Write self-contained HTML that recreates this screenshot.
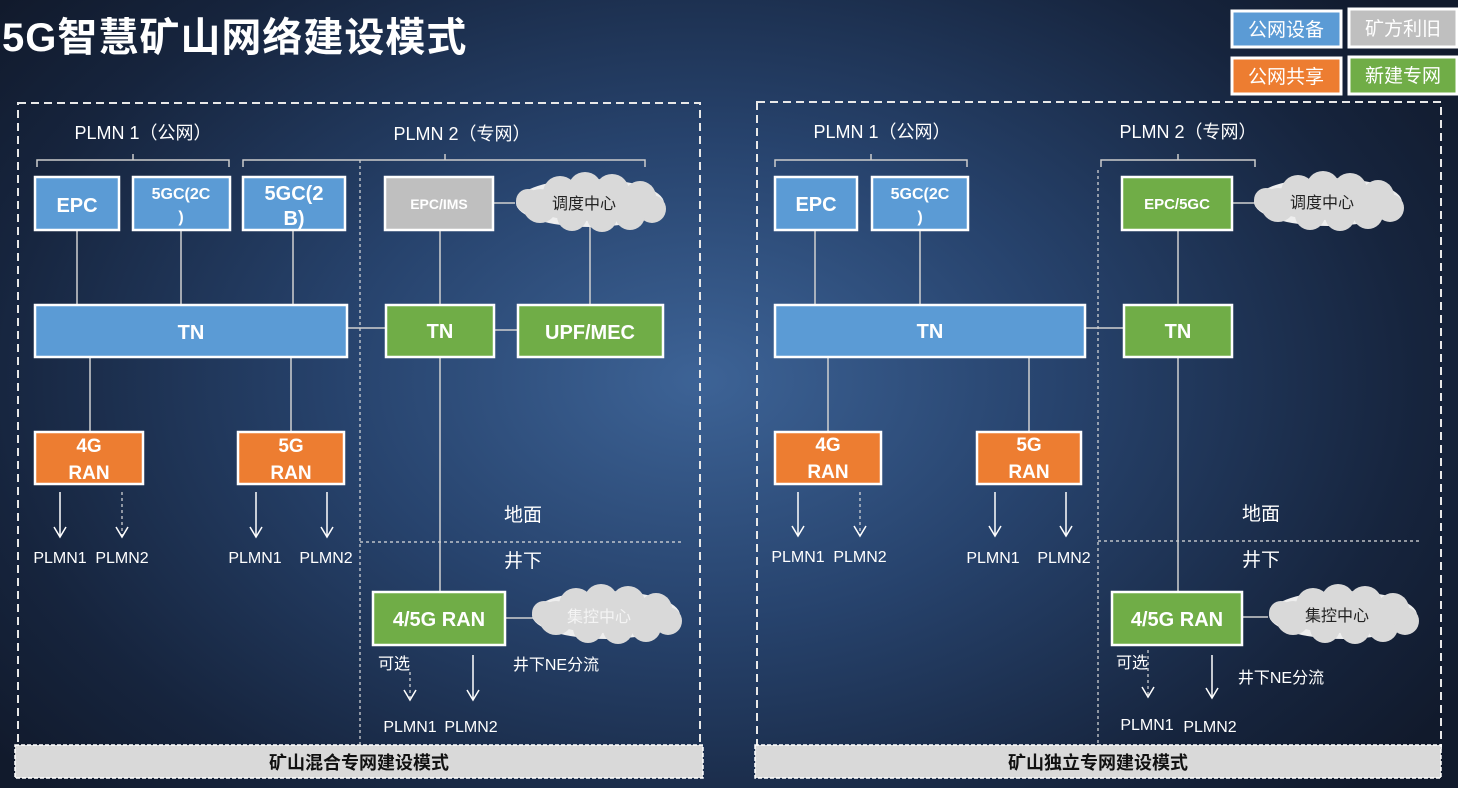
<!DOCTYPE html>
<html><head><meta charset="utf-8"><style>
html,body{margin:0;padding:0;width:1458px;height:788px;overflow:hidden}
body{background:radial-gradient(ellipse 900px 600px at 700px 380px,#3d6396 0%,#27436d 40%,#16243d 80%,#111a2c 100%)}
svg{position:absolute;left:0;top:0}
text{font-family:"Liberation Sans","Noto Sans CJK SC",sans-serif;fill:#fff}
.b{font-weight:bold}
</style></head><body>
<svg width="1458" height="788" viewBox="0 0 1458 788" xmlns="http://www.w3.org/2000/svg">
<defs>
<g id="cloud">
<ellipse cx="0" cy="0" rx="74" ry="24" fill="#eee"/>
<circle cx="-50" cy="3" r="17" fill="#d9d9d9"/><circle cx="-30" cy="-10" r="17" fill="#d9d9d9"/>
<circle cx="-5" cy="-14" r="17" fill="#d9d9d9"/><circle cx="22" cy="-12" r="17" fill="#d9d9d9"/>
<circle cx="50" cy="-6" r="16" fill="#d9d9d9"/><circle cx="62" cy="6" r="14" fill="#d9d9d9"/>
<circle cx="40" cy="12" r="15" fill="#d9d9d9"/><circle cx="12" cy="14" r="15" fill="#d9d9d9"/>
<circle cx="-18" cy="13" r="15" fill="#d9d9d9"/><circle cx="-62" cy="-2" r="12" fill="#d9d9d9"/>
<ellipse cx="0" cy="0" rx="60" ry="18" fill="#d9d9d9"/>
</g>
<g id="ah"><polyline points="-6,-10 0,0 6,-10" fill="none" stroke="#fff" stroke-width="1.5"/></g>
</defs>

<text x="2" y="51" class="b" font-size="40" letter-spacing="1">5G智慧矿山网络建设模式</text>

<!-- legend -->
<g stroke="#fff" stroke-width="3">
<rect x="1232" y="11" width="109" height="36" fill="#5b9bd5"/>
<rect x="1349" y="9" width="108" height="38" fill="#bfbfbf"/>
<rect x="1232" y="58" width="109" height="36" fill="#ed7d31"/>
<rect x="1349" y="57" width="108" height="37" fill="#70ad47"/>
</g>
<g font-size="19" text-anchor="middle">
<text x="1286" y="36">公网设备</text><text x="1403" y="35">矿方利旧</text>
<text x="1286" y="83">公网共享</text><text x="1403" y="82">新建专网</text>
</g>

<!-- panels -->
<g fill="none" stroke="#e8e8e8" stroke-width="2" stroke-dasharray="8,5">
<rect x="18" y="103" width="682" height="645"/>
<rect x="757" y="102" width="684" height="646"/>
</g>
<g fill="#d9d9d9" stroke="#fff" stroke-width="1.5" stroke-dasharray="4,2">
<rect x="15" y="745" width="688" height="33"/>
<rect x="755" y="745" width="686" height="33"/>
</g>
<g font-size="18" class="b" text-anchor="middle">
<text x="359" y="769" style="fill:#111">矿山混合专网建设模式</text>
<text x="1098" y="769" style="fill:#111">矿山独立专网建设模式</text>
</g>

<!-- dotted dividers -->
<g stroke="#ddd" stroke-width="1.2" stroke-dasharray="3,3" fill="none">
<line x1="360" y1="160" x2="360" y2="745"/>
<line x1="360" y1="542" x2="683" y2="542"/>
<line x1="1098" y1="170" x2="1098" y2="745"/>
<line x1="1098" y1="541" x2="1420" y2="541"/>
<line x1="410" y1="672" x2="410" y2="698"/>
<line x1="122" y1="492" x2="122" y2="536"/>
<line x1="860" y1="492" x2="860" y2="536"/>
<line x1="1148" y1="650" x2="1148" y2="696"/>
</g>

<!-- brackets -->
<g stroke="#ccc" stroke-width="1.5" fill="none">
<polyline points="37,167 37,160 229,160 229,167"/><line x1="133" y1="160" x2="133" y2="154"/>
<polyline points="243,167 243,160 645,160 645,167"/><line x1="445" y1="160" x2="445" y2="154"/>
<polyline points="775,167 775,160 967,160 967,167"/><line x1="871" y1="160" x2="871" y2="154"/>
<polyline points="1101,167 1101,160 1255,160 1255,167"/><line x1="1178" y1="160" x2="1178" y2="154"/>
</g>
<g font-size="18" text-anchor="middle">
<text x="143" y="139">PLMN 1（公网）</text>
<text x="462" y="140">PLMN 2（专网）</text>
<text x="882" y="138">PLMN 1（公网）</text>
<text x="1188" y="138">PLMN 2（专网）</text>
</g>

<!-- connectors -->
<g stroke="#d0d0d0" stroke-width="1.5" fill="none">
<line x1="77" y1="230" x2="77" y2="305"/><line x1="181" y1="230" x2="181" y2="305"/>
<line x1="293" y1="230" x2="293" y2="305"/><line x1="440" y1="230" x2="440" y2="305"/>
<line x1="590" y1="222" x2="590" y2="305"/><line x1="493" y1="203" x2="515" y2="203"/>
<line x1="347" y1="328" x2="386" y2="328"/><line x1="494" y1="330" x2="518" y2="330"/>
<line x1="90" y1="357" x2="90" y2="432"/><line x1="291" y1="357" x2="291" y2="432"/>
<line x1="440" y1="357" x2="440" y2="592"/><line x1="505" y1="618" x2="535" y2="618"/>
<line x1="815" y1="230" x2="815" y2="305"/><line x1="920" y1="230" x2="920" y2="305"/>
<line x1="1178" y1="230" x2="1178" y2="305"/><line x1="1232" y1="203" x2="1255" y2="203"/>
<line x1="1085" y1="328" x2="1124" y2="328"/>
<line x1="828" y1="357" x2="828" y2="432"/><line x1="1029" y1="357" x2="1029" y2="432"/>
<line x1="1178" y1="357" x2="1178" y2="592"/><line x1="1242" y1="617" x2="1268" y2="617"/>
</g>
<g stroke="#fff" stroke-width="1.5">
<line x1="60" y1="492" x2="60" y2="537"/><line x1="256" y1="492" x2="256" y2="537"/>
<line x1="327" y1="492" x2="327" y2="537"/><line x1="473" y1="655" x2="473" y2="700"/>
<line x1="798" y1="492" x2="798" y2="536"/><line x1="995" y1="492" x2="995" y2="536"/>
<line x1="1066" y1="492" x2="1066" y2="536"/><line x1="1212" y1="655" x2="1212" y2="698"/>
</g>
<use href="#ah" x="60" y="537"/><use href="#ah" x="122" y="537"/><use href="#ah" x="256" y="537"/><use href="#ah" x="327" y="537"/>
<use href="#ah" x="410" y="700"/><use href="#ah" x="473" y="700"/>
<use href="#ah" x="798" y="536"/><use href="#ah" x="860" y="536"/><use href="#ah" x="995" y="536"/><use href="#ah" x="1066" y="536"/>
<use href="#ah" x="1148" y="697"/><use href="#ah" x="1212" y="698"/>

<!-- clouds -->
<use href="#cloud" x="590" y="203"/><use href="#cloud" x="606" y="615"/>
<use href="#cloud" x="1328" y="202"/><use href="#cloud" x="1343" y="615"/>
<g font-size="16" text-anchor="middle">
<text x="584" y="209" style="fill:#222">调度中心</text>
<text x="599" y="622" style="fill:#f4f4f4">集控中心</text>
<text x="1322" y="208" style="fill:#222">调度中心</text>
<text x="1337" y="621" style="fill:#222">集控中心</text>
</g>

<!-- boxes -->
<g stroke="#fff" stroke-width="2.5">
<rect x="35" y="177" width="84" height="53" fill="#5b9bd5"/>
<rect x="133" y="177" width="97" height="53" fill="#5b9bd5"/>
<rect x="243" y="177" width="102" height="53" fill="#5b9bd5"/>
<rect x="385" y="177" width="108" height="53" fill="#bfbfbf"/>
<rect x="35" y="305" width="312" height="52" fill="#5b9bd5"/>
<rect x="386" y="305" width="108" height="52" fill="#70ad47"/>
<rect x="518" y="305" width="145" height="52" fill="#70ad47"/>
<rect x="35" y="432" width="108" height="52" fill="#ed7d31"/>
<rect x="238" y="432" width="106" height="52" fill="#ed7d31"/>
<rect x="373" y="592" width="132" height="53" fill="#70ad47"/>
<rect x="775" y="177" width="82" height="53" fill="#5b9bd5"/>
<rect x="872" y="177" width="96" height="53" fill="#5b9bd5"/>
<rect x="1122" y="177" width="110" height="53" fill="#70ad47"/>
<rect x="775" y="305" width="310" height="52" fill="#5b9bd5"/>
<rect x="1124" y="305" width="108" height="52" fill="#70ad47"/>
<rect x="775" y="432" width="106" height="52" fill="#ed7d31"/>
<rect x="977" y="432" width="104" height="52" fill="#ed7d31"/>
<rect x="1112" y="592" width="130" height="53" fill="#70ad47"/>
</g>
<g class="b" text-anchor="middle">
<text x="77" y="212" font-size="20">EPC</text>
<text x="181" y="199" font-size="16">5GC(2C</text><text x="181" y="222" font-size="16">)</text>
<text x="294" y="200" font-size="20">5GC(2</text><text x="294" y="225" font-size="20">B)</text>
<text x="439" y="209" font-size="14">EPC/IMS</text>
<text x="191" y="339" font-size="20">TN</text>
<text x="440" y="338" font-size="20">TN</text>
<text x="590" y="339" font-size="20">UPF/MEC</text>
<text x="89" y="452" font-size="19">4G</text><text x="89" y="479" font-size="19">RAN</text>
<text x="291" y="452" font-size="19">5G</text><text x="291" y="479" font-size="19">RAN</text>
<text x="439" y="626" font-size="20">4/5G RAN</text>
<text x="816" y="211" font-size="20">EPC</text>
<text x="920" y="199" font-size="16">5GC(2C</text><text x="920" y="222" font-size="16">)</text>
<text x="1177" y="209" font-size="15">EPC/5GC</text>
<text x="930" y="338" font-size="20">TN</text>
<text x="1178" y="338" font-size="20">TN</text>
<text x="828" y="451" font-size="19">4G</text><text x="828" y="478" font-size="19">RAN</text>
<text x="1029" y="451" font-size="19">5G</text><text x="1029" y="478" font-size="19">RAN</text>
<text x="1177" y="626" font-size="20">4/5G RAN</text>
</g>

<!-- labels -->
<g font-size="16" text-anchor="middle">
<text x="60" y="563">PLMN1</text><text x="122" y="563">PLMN2</text>
<text x="255" y="563">PLMN1</text><text x="326" y="563">PLMN2</text>
<text x="410" y="732">PLMN1</text><text x="471" y="732">PLMN2</text>
<text x="798" y="562">PLMN1</text><text x="860" y="562">PLMN2</text>
<text x="993" y="563">PLMN1</text><text x="1064" y="563">PLMN2</text>
<text x="1147" y="730">PLMN1</text><text x="1210" y="732">PLMN2</text>
<text x="394" y="669">可选</text><text x="556" y="670">井下NE分流</text>
<text x="1132" y="668">可选</text><text x="1281" y="683">井下NE分流</text>
</g>
<g font-size="19" text-anchor="middle">
<text x="523" y="521">地面</text><text x="523" y="567">井下</text>
<text x="1261" y="520">地面</text><text x="1261" y="566">井下</text>
</g>
</svg>
</body></html>
